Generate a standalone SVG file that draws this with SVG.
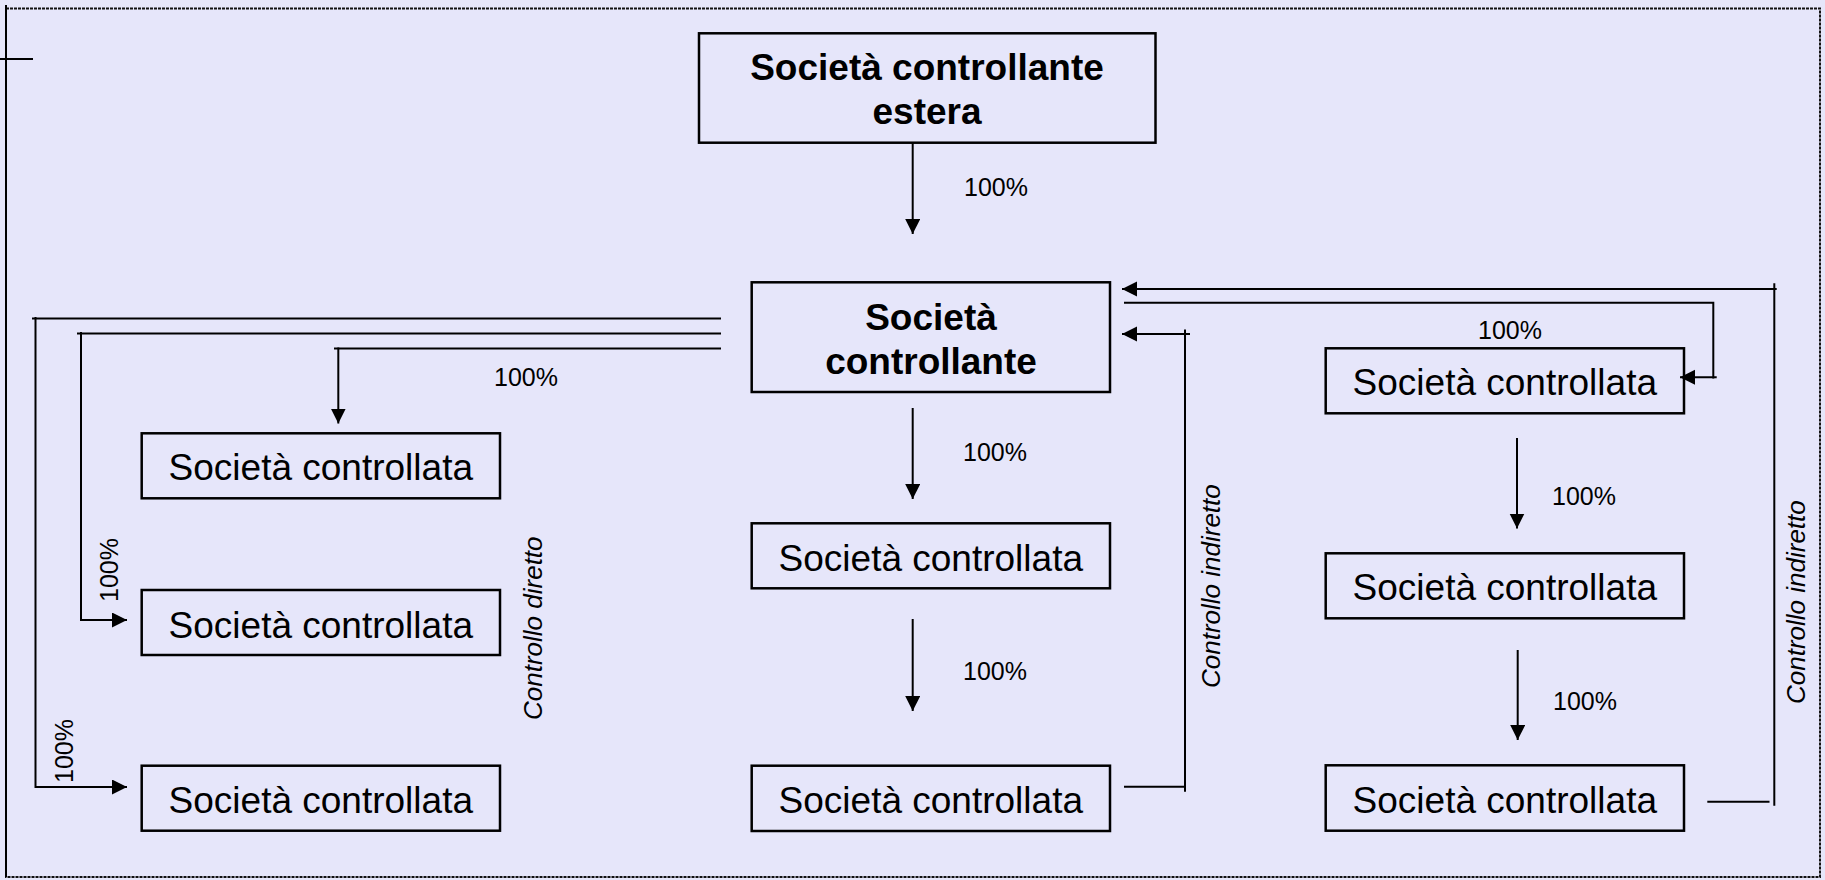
<svg xmlns="http://www.w3.org/2000/svg" width="1825" height="880" viewBox="0 0 1825 880">
  <defs>
    <marker id="arrow" markerUnits="userSpaceOnUse" markerWidth="16" markerHeight="16" refX="15" refY="7.5" orient="auto">
      <path d="M0,0 L15,7.5 L0,15 Z" fill="#000"/>
    </marker>
    <style>
      .frame { fill: #E6E6FA; stroke: #111; stroke-width: 2; stroke-dasharray: 3 1; }
      .box { fill: none; stroke: #000; stroke-width: 2.5; }
      .conn { fill: none; stroke: #000; stroke-width: 2; }
      .arr { marker-end: url(#arrow); }
      .bold { font-family: "Liberation Sans", Arial, sans-serif; font-weight: bold; font-size: 37px; text-anchor: middle; fill: #000; }
      .name { font-family: "Liberation Sans", Arial, sans-serif; font-size: 37px; text-anchor: middle; fill: #000; }
      .pct { font-family: "Liberation Sans", Arial, sans-serif; font-size: 25px; fill: #000; }
      .side { font-family: "Liberation Sans", Arial, sans-serif; font-style: italic; font-size: 26px; fill: #000; }
    </style>
  </defs>

  <!-- page background and frame -->
  <rect x="0" y="0" width="1825" height="880" fill="#E6E6FA"/>
  <rect class="frame" x="6" y="8.5" width="1814" height="868.5"/>
  <line x1="6" y1="5" x2="6" y2="877" stroke="#000" stroke-width="2"/>
  <line x1="0" y1="59" x2="33" y2="59" stroke="#000" stroke-width="2"/>

  <!-- connectors -->
  <g id="connectors">
    <!-- foreign parent to parent -->
    <path class="conn arr" d="M912.7,142 V234"/>
    <!-- direct control, left branch -->
    <path class="conn" d="M721,318.5 H32"/>
    <path class="conn arr" d="M35.5,317 V787 H127"/>
    <path class="conn" d="M721,333.5 H77"/>
    <path class="conn arr" d="M81,332 V620 H127"/>
    <path class="conn" d="M721,348.5 H334"/>
    <path class="conn arr" d="M338.3,347.5 V423.5"/>
    <!-- middle chain -->
    <path class="conn arr" d="M912.7,408 V499"/>
    <path class="conn arr" d="M912.7,619 V711"/>
    <!-- indirect control, middle loop -->
    <path class="conn" d="M1124,786.7 H1185"/>
    <path class="conn" d="M1185,791.7 V329.5"/>
    <path class="conn arr" d="M1190,334 H1122"/>
    <!-- parent to right chain head -->
    <path class="conn" d="M1124,302.7 H1713.3 V378.5"/>
    <path class="conn arr" d="M1716.7,377.3 H1680"/>
    <!-- right chain -->
    <path class="conn arr" d="M1517,438 V528.5"/>
    <path class="conn arr" d="M1517.7,650 V740"/>
    <!-- indirect control, right loop -->
    <path class="conn" d="M1707.3,801.7 H1769.5"/>
    <path class="conn" d="M1774.3,805.7 V283.3"/>
    <path class="conn arr" d="M1776.7,289 H1122"/>
  </g>

  <!-- percentage and control labels -->
  <g id="labels">
    <text class="pct" x="964" y="196">100%</text>
    <text class="pct" x="494" y="386">100%</text>
    <text class="pct" x="963" y="461">100%</text>
    <text class="pct" x="963" y="680">100%</text>
    <text class="pct" x="1478" y="339">100%</text>
    <text class="pct" x="1552" y="505">100%</text>
    <text class="pct" x="1553" y="710">100%</text>
    <text class="pct" transform="translate(118.3,602) rotate(-90)">100%</text>
    <text class="pct" transform="translate(72.7,783) rotate(-90)">100%</text>
    <text class="side" transform="translate(541.7,720) rotate(-90)">Controllo diretto</text>
    <text class="side" transform="translate(1220,688) rotate(-90)">Controllo indiretto</text>
    <text class="side" transform="translate(1805,704) rotate(-90)">Controllo indiretto</text>
  </g>

  <!-- companies -->
  <g id="parent-foreign">
    <rect class="box" x="699" y="33.3" width="456.5" height="109.4"/>
    <text class="bold" x="927" y="80">Società controllante</text>
    <text class="bold" x="927" y="124.3">estera</text>
  </g>
  <g id="parent">
    <rect class="box" x="751.7" y="282.3" width="358.3" height="109.7"/>
    <text class="bold" x="931" y="330">Società</text>
    <text class="bold" x="931" y="374">controllante</text>
  </g>
  <g id="sub-left-1">
    <rect class="box" x="141.7" y="433.3" width="358.3" height="65"/>
    <text class="name" x="320.8" y="480">Società controllata</text>
  </g>
  <g id="sub-left-2">
    <rect class="box" x="141.7" y="590" width="358.3" height="65"/>
    <text class="name" x="320.8" y="637.5">Società controllata</text>
  </g>
  <g id="sub-left-3">
    <rect class="box" x="141.7" y="765.7" width="358.3" height="65"/>
    <text class="name" x="320.8" y="813.3">Società controllata</text>
  </g>
  <g id="sub-mid-1">
    <rect class="box" x="751.7" y="523.3" width="358.3" height="65"/>
    <text class="name" x="930.8" y="570.5">Società controllata</text>
  </g>
  <g id="sub-mid-2">
    <rect class="box" x="751.7" y="765.7" width="358.3" height="65.3"/>
    <text class="name" x="930.8" y="813.3">Società controllata</text>
  </g>
  <g id="sub-right-1">
    <rect class="box" x="1325.7" y="348.3" width="358.3" height="65"/>
    <text class="name" x="1504.8" y="395">Società controllata</text>
  </g>
  <g id="sub-right-2">
    <rect class="box" x="1325.7" y="553.3" width="358.3" height="65"/>
    <text class="name" x="1504.8" y="600">Società controllata</text>
  </g>
  <g id="sub-right-3">
    <rect class="box" x="1325.7" y="765.3" width="358.3" height="65.4"/>
    <text class="name" x="1504.8" y="813">Società controllata</text>
  </g>
</svg>
